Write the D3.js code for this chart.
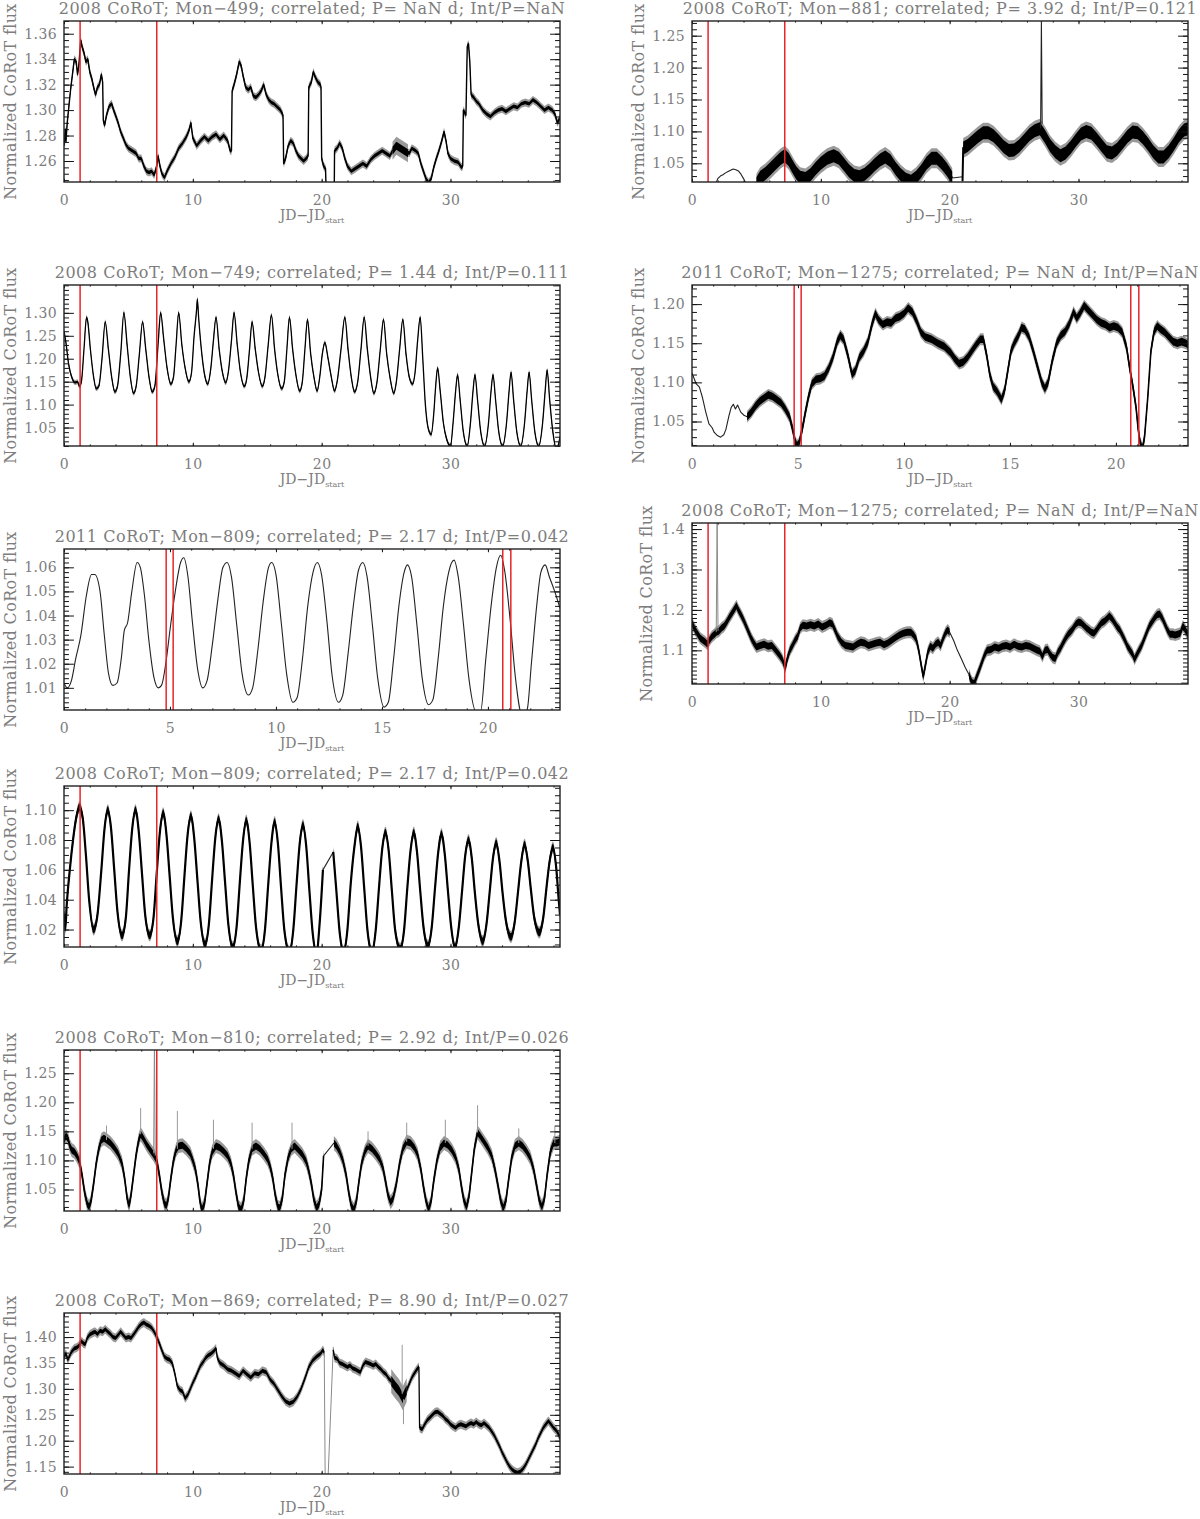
<!DOCTYPE html>
<html><head><meta charset="utf-8">
<script src="https://cdn.jsdelivr.net/npm/d3@7"></script>
<style>html,body{margin:0;padding:0;background:#fff}</style>
</head><body>
<script>
// ---------------- DATA ----------------
const titles = {
  L1:"2008 CoRoT; Mon\u2212499; correlated; P= NaN d; Int/P=NaN",
  L2:"2008 CoRoT; Mon\u2212749; correlated; P= 1.44 d; Int/P=0.111",
  L3:"2011 CoRoT; Mon\u2212809; correlated; P= 2.17 d; Int/P=0.042",
  L4:"2008 CoRoT; Mon\u2212809; correlated; P= 2.17 d; Int/P=0.042",
  L5:"2008 CoRoT; Mon\u2212810; correlated; P= 2.92 d; Int/P=0.026",
  L6:"2008 CoRoT; Mon\u2212869; correlated; P= 8.90 d; Int/P=0.027",
  R1:"2008 CoRoT; Mon\u2212881; correlated; P= 3.92 d; Int/P=0.121",
  R2:"2011 CoRoT; Mon\u22121275; correlated; P= NaN d; Int/P=NaN",
  R3:"2008 CoRoT; Mon\u22121275; correlated; P= NaN d; Int/P=NaN"
};
const yLabel = "Normalized CoRoT flux";
const xTicks2008 = [0,10,20,30];
const xTicks2011 = [0,5,10,15,20];
const xDomain2008 = [0,38.5];
const xDomain2011 = [0,23.4];
const redLines2008 = [1.25,7.2];
const redLines2011 = [4.82,5.15,20.7,21.08];

const yDom = {L1:[1.2435,1.370],R1:[1.0207,1.273],L2:[1.0098,1.3607],R2:[1.0187,1.2244],
  L3:[1.0008,1.0676],R3:[1.0167,1.415],L4:[1.0083,1.1162],L5:[1.013,1.290],L6:[1.1358,1.4464]};
const yTicks = {L1:[1.26,1.28,1.30,1.32,1.34,1.36],R1:[1.05,1.10,1.15,1.20,1.25],
  L2:[1.05,1.10,1.15,1.20,1.25,1.30],R2:[1.05,1.10,1.15,1.20],L3:[1.01,1.02,1.03,1.04,1.05,1.06],
  R3:[1.1,1.2,1.3,1.4],L4:[1.02,1.04,1.06,1.08,1.10],L5:[1.05,1.10,1.15,1.20,1.25],
  L6:[1.15,1.20,1.25,1.30,1.35,1.40]};
const yMinorStep = {L1:0.005,R1:0.01,L2:0.01,R2:0.01,L3:0.002,R3:0.01,L4:0.005,L5:0.01,L6:0.01};
const yDecimals = {L1:2,R1:2,L2:2,R2:2,L3:2,R3:1,L4:2,L5:2,L6:2};

// Mon-499 (2008)
const m499 = [[0.0,1.272],[0.1,1.285],[0.15,1.275],[0.25,1.29],[0.5,1.315],[0.8,1.34],[0.95,1.338],[1.05,1.328],[1.15,1.335],[1.3,1.355],[1.4,1.35],[1.55,1.345],[1.7,1.338],[1.85,1.34],[2.0,1.33],[2.15,1.325],[2.3,1.318],[2.45,1.312],[2.6,1.318],[2.75,1.32],[2.9,1.328],[3.0,1.322],[3.05,1.292],[3.15,1.288],[3.3,1.296],[3.5,1.303],[3.7,1.305],[3.85,1.300],[4.0,1.296],[4.2,1.290],[4.4,1.283],[4.6,1.278],[4.8,1.273],[5.0,1.270],[5.3,1.268],[5.6,1.266],[5.8,1.262],[6.0,1.262],[6.2,1.256],[6.4,1.252],[6.6,1.251],[6.8,1.252],[7.0,1.249],[7.2,1.256],[7.3,1.264],[7.45,1.256],[7.6,1.250],[7.8,1.247],[8.0,1.252],[8.3,1.258],[8.6,1.263],[8.9,1.270],[9.2,1.274],[9.5,1.279],[9.7,1.284],[9.85,1.290],[10.0,1.278],[10.3,1.272],[10.6,1.276],[10.9,1.279],[11.2,1.276],[11.5,1.279],[11.8,1.281],[12.1,1.277],[12.4,1.280],[12.7,1.276],[12.9,1.268],[13.0,1.268],[13.05,1.315],[13.2,1.320],[13.4,1.328],[13.6,1.338],[13.75,1.335],[13.9,1.327],[14.1,1.318],[14.3,1.316],[14.5,1.318],[14.7,1.311],[14.9,1.310],[15.1,1.312],[15.3,1.315],[15.5,1.320],[15.7,1.312],[15.9,1.308],[16.1,1.306],[16.3,1.305],[16.6,1.302],[16.8,1.300],[17.0,1.296],[17.05,1.258],[17.2,1.262],[17.4,1.272],[17.6,1.276],[17.8,1.274],[18.0,1.268],[18.2,1.264],[18.4,1.262],[18.6,1.260],[18.8,1.262],[18.95,1.264],[19.0,1.318],[19.2,1.322],[19.35,1.330],[19.5,1.326],[19.7,1.322],[19.9,1.320],[19.95,1.318],[20.0,1.262],[20.15,1.256],[20.3,1.254],[20.45,1.20],[20.95,1.20],[21.0,1.268],[21.2,1.270],[21.4,1.274],[21.6,1.270],[21.8,1.262],[22.0,1.256],[22.3,1.252],[22.6,1.254],[22.9,1.256],[23.2,1.258],[23.5,1.256],[23.8,1.261],[24.1,1.264],[24.4,1.266],[24.7,1.268],[25.0,1.266],[25.3,1.264],[25.6,1.270],[25.9,1.272],[26.2,1.270],[26.5,1.268],[26.8,1.266],[27.0,1.270],[27.3,1.268],[27.5,1.266],[27.7,1.258],[27.9,1.252],[28.1,1.246],[28.3,1.243],[28.5,1.246],[28.7,1.255],[28.9,1.262],[29.1,1.268],[29.3,1.275],[29.5,1.283],[29.65,1.276],[29.8,1.266],[30.0,1.262],[30.3,1.260],[30.6,1.259],[30.85,1.255],[30.95,1.256],[31.0,1.300],[31.1,1.298],[31.2,1.296],[31.3,1.350],[31.4,1.352],[31.5,1.338],[31.6,1.312],[31.8,1.310],[32.0,1.307],[32.2,1.305],[32.5,1.300],[32.8,1.297],[33.1,1.295],[33.4,1.298],[33.7,1.300],[34.0,1.301],[34.3,1.299],[34.6,1.301],[34.9,1.303],[35.2,1.302],[35.5,1.305],[35.8,1.306],[36.1,1.305],[36.4,1.308],[36.7,1.306],[37.0,1.303],[37.3,1.300],[37.6,1.302],[37.9,1.300],[38.1,1.297],[38.3,1.290],[38.5,1.294]];
const m499_noisy = [[25.5,1.268],[25.8,1.272],[26.1,1.270],[26.4,1.268],[26.7,1.266]];

// Mon-881 (2008)
const m881_a = [[0.0,1.022],[0.12,1.020]];
const m881_b = [[1.85,1.018],[2.0,1.026],[2.2,1.030],[2.4,1.032],[2.6,1.035],[2.8,1.037],[3.0,1.039],[3.2,1.041],[3.4,1.040],[3.6,1.038],[3.8,1.033],[4.0,1.026],[4.2,1.018]];
const m881_c = [[5.0,1.018],[5.3,1.028],[5.7,1.034],[6.1,1.042],[6.5,1.050],[6.9,1.058],[7.2,1.062],[7.5,1.056],[7.8,1.045],[8.1,1.035],[8.4,1.028],[8.8,1.026],[9.2,1.032],[9.6,1.042],[10.0,1.050],[10.5,1.058],[11.0,1.062],[11.4,1.058],[11.8,1.048],[12.2,1.038],[12.6,1.031],[13.0,1.029],[13.4,1.033],[13.8,1.040],[14.2,1.048],[14.6,1.055],[15.0,1.060],[15.4,1.054],[15.8,1.042],[16.2,1.032],[16.6,1.025],[17.0,1.022],[17.4,1.028],[17.8,1.038],[18.2,1.050],[18.6,1.058],[19.0,1.058],[19.4,1.050],[19.8,1.040],[20.2,1.027]];
const m881_d = [[20.2,1.027],[21.0,1.029]];
const m881_e = [[21.0,1.022],[21.05,1.074],[21.4,1.078],[21.8,1.085],[22.2,1.092],[22.6,1.098],[23.0,1.098],[23.4,1.093],[23.8,1.085],[24.2,1.076],[24.6,1.070],[25.0,1.071],[25.4,1.077],[25.8,1.086],[26.2,1.095],[26.6,1.101],[27.0,1.104],[27.4,1.092],[27.8,1.078],[28.2,1.068],[28.6,1.062],[29.0,1.066],[29.4,1.075],[29.8,1.086],[30.2,1.096],[30.6,1.100],[31.0,1.097],[31.4,1.088],[31.8,1.078],[32.2,1.068],[32.6,1.066],[33.0,1.072],[33.4,1.082],[33.8,1.092],[34.2,1.099],[34.6,1.098],[35.0,1.090],[35.4,1.080],[35.8,1.068],[36.2,1.060],[36.6,1.060],[37.0,1.068],[37.4,1.080],[37.8,1.093],[38.2,1.102],[38.5,1.104]];
const m881_spike = [[27.06,1.105],[27.12,1.273],[27.18,1.112]];

// Mon-749 (2008)
const m749 = [[0.0,1.26],[0.15,1.235],[0.35,1.19],[0.6,1.16],[0.85,1.148],[1.05,1.15],[1.2,1.14],[1.35,1.15],[1.55,1.22],[1.75,1.29],[1.85,1.28],[2.05,1.22],[2.3,1.16],[2.5,1.135],[2.7,1.14],[2.95,1.2],[3.2,1.28],[3.45,1.22],[3.7,1.16],[3.95,1.128],[4.15,1.14],[4.4,1.21],[4.65,1.30],[4.9,1.23],[5.15,1.16],[5.4,1.125],[5.6,1.14],[5.85,1.21],[6.1,1.28],[6.35,1.22],[6.6,1.16],[6.85,1.128],[7.05,1.14],[7.3,1.23],[7.5,1.30],[7.75,1.24],[8.0,1.18],[8.3,1.145],[8.5,1.16],[8.7,1.23],[8.9,1.30],[9.15,1.23],[9.4,1.18],[9.7,1.15],[9.9,1.17],[10.1,1.25],[10.3,1.31],[10.35,1.33],[10.45,1.29],[10.7,1.21],[10.95,1.16],[11.15,1.145],[11.4,1.18],[11.6,1.24],[11.8,1.29],[12.05,1.22],[12.3,1.17],[12.55,1.148],[12.75,1.17],[13.0,1.24],[13.2,1.30],[13.45,1.23],[13.7,1.17],[14.0,1.14],[14.2,1.16],[14.4,1.22],[14.6,1.28],[14.85,1.22],[15.1,1.17],[15.4,1.14],[15.6,1.16],[15.85,1.23],[16.1,1.295],[16.35,1.22],[16.6,1.165],[16.9,1.135],[17.1,1.15],[17.3,1.22],[17.5,1.29],[17.75,1.22],[18.0,1.165],[18.3,1.13],[18.5,1.15],[18.7,1.22],[18.9,1.285],[19.15,1.21],[19.4,1.16],[19.65,1.13],[19.85,1.16],[20.05,1.21],[20.25,1.235],[20.5,1.2],[20.75,1.16],[21.0,1.13],[21.2,1.15],[21.5,1.22],[21.8,1.29],[22.05,1.22],[22.3,1.16],[22.55,1.128],[22.8,1.15],[23.05,1.22],[23.3,1.29],[23.55,1.22],[23.8,1.16],[24.05,1.125],[24.3,1.15],[24.55,1.22],[24.8,1.285],[25.05,1.21],[25.3,1.16],[25.6,1.125],[25.8,1.15],[26.05,1.22],[26.3,1.285],[26.55,1.21],[26.8,1.16],[27.05,1.145],[27.25,1.17],[27.45,1.24],[27.65,1.29],[27.85,1.2],[28.05,1.1],[28.3,1.045],[28.5,1.035],[28.7,1.08],[28.85,1.14],[29.0,1.18],[29.2,1.13],[29.45,1.06],[29.7,1.025],[30.0,1.01],[30.2,1.06],[30.4,1.13],[30.55,1.165],[30.75,1.11],[31.0,1.04],[31.3,1.01],[31.55,1.06],[31.75,1.13],[31.9,1.165],[32.1,1.11],[32.35,1.04],[32.65,1.01],[32.95,1.06],[33.15,1.13],[33.3,1.165],[33.5,1.11],[33.75,1.04],[34.05,1.01],[34.35,1.06],[34.55,1.13],[34.7,1.17],[34.9,1.11],[35.15,1.04],[35.45,1.01],[35.75,1.06],[35.95,1.13],[36.1,1.17],[36.3,1.11],[36.55,1.04],[36.85,1.01],[37.15,1.06],[37.35,1.13],[37.5,1.175],[37.7,1.11],[37.95,1.04],[38.2,1.005],[38.35,1.01],[38.5,1.03]];

// Mon-1275 (2011)
const m1275b_thin = [[0.0,1.112],[0.1,1.105],[0.2,1.098],[0.35,1.094],[0.5,1.080],[0.65,1.062],[0.8,1.047],[0.95,1.042],[1.05,1.036],[1.2,1.032],[1.35,1.030],[1.5,1.033],[1.6,1.040],[1.75,1.058],[1.85,1.068],[1.95,1.072],[2.05,1.066],[2.15,1.071],[2.3,1.062],[2.45,1.058],[2.6,1.056]];
const m1275b = [[2.6,1.056],[2.8,1.062],[3.0,1.070],[3.2,1.076],[3.4,1.080],[3.6,1.084],[3.8,1.082],[4.0,1.078],[4.2,1.074],[4.4,1.066],[4.6,1.056],[4.75,1.040],[4.85,1.026],[4.95,1.019],[5.05,1.022],[5.2,1.040],[5.35,1.062],[5.5,1.082],[5.65,1.098],[5.85,1.104],[6.05,1.105],[6.25,1.108],[6.45,1.118],[6.65,1.132],[6.85,1.152],[7.0,1.160],[7.15,1.155],[7.35,1.135],[7.55,1.110],[7.7,1.115],[7.9,1.132],[8.1,1.140],[8.3,1.152],[8.5,1.175],[8.65,1.188],[8.8,1.180],[9.0,1.174],[9.2,1.177],[9.4,1.176],[9.6,1.182],[9.8,1.184],[10.0,1.188],[10.2,1.195],[10.4,1.190],[10.6,1.178],[10.8,1.164],[11.0,1.158],[11.3,1.155],[11.6,1.150],[11.9,1.146],[12.2,1.138],[12.4,1.130],[12.6,1.124],[12.8,1.126],[13.0,1.132],[13.2,1.140],[13.4,1.148],[13.6,1.155],[13.75,1.155],[13.9,1.135],[14.05,1.110],[14.2,1.095],[14.4,1.088],[14.6,1.078],[14.75,1.090],[14.9,1.115],[15.05,1.140],[15.2,1.150],[15.4,1.160],[15.55,1.170],[15.7,1.168],[15.9,1.158],[16.1,1.140],[16.3,1.120],[16.5,1.100],[16.65,1.092],[16.8,1.100],[17.0,1.128],[17.2,1.150],[17.4,1.160],[17.6,1.165],[17.8,1.175],[18.0,1.190],[18.15,1.182],[18.3,1.188],[18.5,1.198],[18.7,1.192],[18.9,1.186],[19.1,1.180],[19.3,1.176],[19.5,1.174],[19.7,1.170],[19.9,1.172],[20.1,1.170],[20.3,1.164],[20.5,1.145],[20.65,1.118],[20.8,1.095],[20.95,1.068],[21.05,1.040],[21.15,1.022],[21.25,1.015],[21.35,1.030],[21.5,1.080],[21.65,1.140],[21.8,1.165],[21.95,1.172],[22.1,1.168],[22.3,1.164],[22.5,1.158],[22.7,1.152],[22.9,1.150],[23.1,1.152],[23.3,1.150],[23.4,1.148]];

// Mon-809 (2011)
const m809b = [[0.0,1.012],[0.15,1.010],[0.35,1.013],[0.55,1.022],[0.8,1.032],[1.05,1.048],[1.3,1.057],[1.45,1.057],[1.7,1.050],[1.9,1.032],[2.1,1.016],[2.3,1.011],[2.5,1.012],[2.7,1.022],[2.85,1.034],[3.0,1.037],[3.2,1.050],[3.45,1.062],[3.6,1.060],[3.8,1.048],[4.0,1.030],[4.25,1.014],[4.45,1.010],[4.6,1.011],[4.8,1.020],[5.0,1.034],[5.25,1.050],[5.5,1.062],[5.65,1.064],[5.85,1.056],[6.05,1.038],[6.3,1.018],[6.55,1.010],[6.75,1.013],[7.0,1.028],[7.25,1.046],[7.5,1.060],[7.7,1.062],[7.9,1.056],[8.15,1.036],[8.4,1.016],[8.7,1.007],[8.9,1.010],[9.15,1.026],[9.4,1.046],[9.65,1.060],[9.8,1.062],[10.0,1.057],[10.25,1.037],[10.5,1.016],[10.8,1.004],[11.0,1.006],[11.25,1.022],[11.5,1.044],[11.75,1.058],[11.95,1.062],[12.15,1.057],[12.4,1.038],[12.65,1.015],[12.95,1.004],[13.15,1.007],[13.4,1.024],[13.65,1.044],[13.9,1.059],[14.1,1.062],[14.3,1.056],[14.55,1.036],[14.8,1.014],[15.1,1.002],[15.3,1.004],[15.55,1.022],[15.8,1.044],[16.05,1.058],[16.2,1.061],[16.4,1.056],[16.65,1.036],[16.9,1.014],[17.2,1.003],[17.4,1.005],[17.65,1.022],[17.9,1.044],[18.15,1.058],[18.4,1.063],[18.6,1.056],[18.85,1.036],[19.1,1.014],[19.45,1.000],[19.65,1.000],[19.9,1.022],[20.15,1.044],[20.4,1.060],[20.6,1.065],[20.8,1.058],[21.05,1.038],[21.3,1.014],[21.6,0.999],[21.85,1.001],[22.05,1.020],[22.3,1.044],[22.5,1.058],[22.7,1.061],[22.9,1.056],[23.15,1.050],[23.4,1.043]];

// Mon-1275 (2008)
const m1275a_1 = [[0.0,1.168],[0.1,1.160],[0.25,1.150],[0.45,1.140],[0.65,1.130],[0.85,1.125],[1.05,1.120],[1.2,1.115],[1.35,1.125],[1.55,1.134],[1.75,1.140],[1.9,1.145],[2.1,1.148],[2.3,1.155],[2.5,1.160],[2.7,1.170],[2.9,1.182],[3.1,1.192],[3.3,1.202],[3.45,1.210],[3.6,1.200],[3.8,1.188],[4.0,1.175],[4.2,1.160],[4.4,1.145],[4.6,1.130],[4.8,1.118],[5.0,1.108],[5.3,1.112],[5.6,1.115],[5.9,1.110],[6.2,1.112],[6.5,1.100],[6.8,1.088],[7.0,1.078],[7.15,1.065],[7.25,1.058],[7.4,1.080],[7.6,1.100],[7.8,1.112],[8.0,1.125],[8.2,1.135],[8.4,1.155],[8.6,1.162],[8.9,1.160],[9.2,1.163],[9.5,1.160],[9.8,1.165],[10.1,1.158],[10.4,1.162],[10.7,1.168],[10.9,1.165],[11.1,1.150],[11.3,1.135],[11.6,1.120],[11.9,1.112],[12.2,1.110],[12.5,1.108],[12.8,1.115],[13.1,1.120],[13.4,1.118],[13.7,1.112],[14.0,1.115],[14.3,1.118],[14.6,1.120],[14.9,1.114],[15.2,1.118],[15.5,1.125],[15.8,1.132],[16.1,1.138],[16.4,1.142],[16.7,1.145],[17.0,1.145],[17.2,1.138],[17.4,1.128],[17.6,1.100],[17.8,1.062],[17.95,1.035],[18.1,1.060],[18.3,1.095],[18.5,1.110],[18.7,1.105],[18.9,1.115],[19.1,1.120],[19.3,1.112],[19.5,1.130],[19.7,1.145],[19.85,1.150],[20.0,1.145]];
const m1275a_thin = [[20.0,1.145],[20.3,1.125],[20.6,1.100],[20.9,1.080],[21.2,1.058],[21.5,1.040]];
const m1275a_2 = [[21.5,1.040],[21.6,1.030],[21.75,1.020],[21.9,1.018],[22.1,1.035],[22.3,1.052],[22.5,1.070],[22.7,1.088],[22.9,1.100],[23.2,1.102],[23.5,1.108],[23.8,1.105],[24.1,1.110],[24.4,1.112],[24.7,1.108],[25.0,1.115],[25.3,1.110],[25.6,1.108],[25.9,1.112],[26.2,1.110],[26.5,1.105],[26.8,1.100],[27.0,1.098],[27.2,1.085],[27.4,1.100],[27.6,1.102],[27.8,1.090],[28.0,1.082],[28.2,1.080],[28.4,1.095],[28.6,1.105],[28.8,1.118],[29.0,1.130],[29.2,1.140],[29.5,1.150],[29.8,1.165],[30.0,1.170],[30.2,1.168],[30.4,1.162],[30.6,1.155],[30.8,1.150],[31.0,1.145],[31.2,1.142],[31.4,1.150],[31.6,1.160],[31.8,1.168],[32.0,1.172],[32.2,1.178],[32.4,1.185],[32.6,1.178],[32.8,1.168],[33.0,1.158],[33.2,1.150],[33.4,1.138],[33.6,1.125],[33.8,1.110],[34.0,1.100],[34.2,1.090],[34.35,1.078],[34.5,1.088],[34.7,1.100],[34.9,1.112],[35.1,1.128],[35.3,1.145],[35.5,1.160],[35.7,1.170],[35.9,1.180],[36.1,1.188],[36.3,1.190],[36.5,1.180],[36.7,1.165],[36.9,1.150],[37.1,1.140],[37.3,1.140],[37.5,1.138],[37.7,1.140],[37.9,1.142],[38.1,1.160],[38.3,1.150],[38.5,1.138]];
const m1275a_spike = [[1.88,1.145],[1.95,1.42],[2.02,1.148]];

// Mon-809 (2008)
const m809a_1 = [[0.0,1.022],[0.05,1.030],[0.1,1.020],[0.2,1.035],[0.45,1.060],[0.7,1.080],[0.95,1.095],[1.2,1.102],[1.45,1.095],[1.7,1.070],[1.95,1.040],[2.3,1.020],[2.6,1.030],[2.9,1.060],[3.15,1.088],[3.4,1.100],[3.65,1.088],[3.9,1.060],[4.15,1.032],[4.5,1.016],[4.8,1.028],[5.05,1.060],[5.3,1.088],[5.55,1.100],[5.8,1.086],[6.05,1.058],[6.3,1.030],[6.65,1.016],[6.95,1.028],[7.2,1.058],[7.45,1.086],[7.7,1.098],[7.95,1.084],[8.2,1.056],[8.45,1.028],[8.8,1.012],[9.1,1.026],[9.35,1.056],[9.6,1.084],[9.85,1.096],[10.1,1.082],[10.35,1.054],[10.6,1.026],[10.95,1.010],[11.25,1.024],[11.5,1.054],[11.75,1.082],[12.0,1.094],[12.25,1.080],[12.5,1.052],[12.75,1.024],[13.1,1.008],[13.4,1.022],[13.65,1.052],[13.9,1.080],[14.15,1.093],[14.4,1.079],[14.65,1.050],[14.9,1.022],[15.3,1.006],[15.6,1.020],[15.85,1.050],[16.1,1.078],[16.35,1.092],[16.6,1.078],[16.85,1.048],[17.1,1.020],[17.5,1.005],[17.8,1.020],[18.05,1.050],[18.3,1.078],[18.55,1.090],[18.8,1.076],[19.05,1.046],[19.3,1.018],[19.6,1.004],[19.85,1.025],[20.1,1.060]];
const m809a_thin = [[20.1,1.060],[20.9,1.072]];
const m809a_2 = [[20.9,1.072],[21.15,1.045],[21.4,1.018],[21.7,1.005],[22.0,1.020],[22.25,1.050],[22.55,1.076],[22.8,1.089],[23.05,1.076],[23.3,1.048],[23.55,1.020],[23.9,1.005],[24.2,1.020],[24.45,1.048],[24.7,1.074],[24.95,1.085],[25.2,1.073],[25.45,1.046],[25.7,1.020],[26.1,1.007],[26.4,1.020],[26.65,1.048],[26.9,1.073],[27.15,1.085],[27.4,1.072],[27.65,1.046],[27.9,1.022],[28.25,1.009],[28.55,1.022],[28.8,1.048],[29.05,1.072],[29.3,1.084],[29.55,1.071],[29.8,1.046],[30.05,1.022],[30.35,1.008],[30.65,1.022],[30.9,1.046],[31.15,1.070],[31.4,1.080],[31.65,1.068],[31.9,1.044],[32.15,1.024],[32.5,1.012],[32.8,1.024],[33.05,1.046],[33.3,1.068],[33.55,1.078],[33.8,1.066],[34.05,1.044],[34.3,1.026],[34.7,1.015],[35.0,1.026],[35.25,1.046],[35.5,1.066],[35.75,1.077],[36.0,1.066],[36.25,1.046],[36.5,1.028],[36.9,1.018],[37.2,1.028],[37.45,1.048],[37.7,1.066],[37.95,1.075],[38.2,1.062],[38.4,1.040],[38.5,1.030]];

// Mon-810 (2008)
const m810_1 = [[0.0,1.135],[0.15,1.142],[0.3,1.138],[0.45,1.125],[0.6,1.118],[0.8,1.115],[1.0,1.108],[1.2,1.098],[1.4,1.075],[1.6,1.045],[1.8,1.025],[1.95,1.020],[2.1,1.030],[2.3,1.060],[2.5,1.095],[2.7,1.120],[2.9,1.135],[3.1,1.138],[3.3,1.135],[3.6,1.130],[3.9,1.122],[4.2,1.112],[4.5,1.095],[4.7,1.070],[4.9,1.035],[5.05,1.022],[5.2,1.040],[5.4,1.075],[5.6,1.110],[5.8,1.135],[5.95,1.145],[6.15,1.138],[6.4,1.128],[6.7,1.118],[6.95,1.110],[7.2,1.100],[7.4,1.075],[7.6,1.045],[7.8,1.025],[7.95,1.022],[8.1,1.035],[8.3,1.070],[8.5,1.100],[8.7,1.118],[8.9,1.125],[9.2,1.126],[9.5,1.120],[9.8,1.112],[10.0,1.100],[10.2,1.085],[10.4,1.058],[10.55,1.030],[10.7,1.015],[10.9,1.025],[11.1,1.060],[11.3,1.095],[11.5,1.115],[11.8,1.125],[12.1,1.122],[12.4,1.116],[12.7,1.108],[12.95,1.095],[13.15,1.075],[13.35,1.045],[13.55,1.020],[13.75,1.015],[13.95,1.030],[14.15,1.070],[14.35,1.100],[14.6,1.120],[14.9,1.125],[15.2,1.120],[15.5,1.112],[15.8,1.102],[16.0,1.090],[16.2,1.070],[16.4,1.040],[16.6,1.020],[16.75,1.018],[16.95,1.035],[17.15,1.075],[17.4,1.105],[17.65,1.120],[17.9,1.125],[18.2,1.118],[18.5,1.110],[18.8,1.098],[19.0,1.082],[19.2,1.060],[19.4,1.032],[19.6,1.018],[19.8,1.025],[20.0,1.050],[20.15,1.108]];
const m810_thin = [[20.15,1.108],[20.95,1.130]];
const m810_2 = [[20.95,1.130],[21.15,1.125],[21.4,1.115],[21.65,1.100],[21.9,1.075],[22.1,1.045],[22.3,1.022],[22.5,1.015],[22.7,1.030],[22.9,1.065],[23.1,1.095],[23.35,1.115],[23.6,1.125],[23.9,1.120],[24.2,1.112],[24.5,1.102],[24.75,1.088],[24.95,1.065],[25.15,1.040],[25.35,1.028],[25.55,1.035],[25.8,1.060],[26.05,1.095],[26.3,1.120],[26.6,1.132],[26.9,1.130],[27.2,1.122],[27.45,1.110],[27.7,1.085],[27.9,1.055],[28.1,1.030],[28.3,1.016],[28.5,1.030],[28.7,1.065],[28.95,1.100],[29.2,1.122],[29.5,1.130],[29.8,1.126],[30.1,1.118],[30.4,1.105],[30.65,1.085],[30.85,1.055],[31.05,1.030],[31.25,1.020],[31.45,1.040],[31.65,1.080],[31.85,1.120],[32.1,1.148],[32.3,1.142],[32.6,1.132],[32.9,1.122],[33.2,1.108],[33.45,1.085],[33.7,1.055],[33.9,1.030],[34.1,1.018],[34.3,1.030],[34.5,1.065],[34.75,1.105],[35.0,1.125],[35.3,1.130],[35.6,1.125],[35.9,1.116],[36.2,1.104],[36.45,1.085],[36.7,1.055],[36.9,1.030],[37.1,1.020],[37.3,1.035],[37.5,1.075],[37.75,1.115],[38.0,1.130],[38.25,1.130],[38.5,1.132]];
const m810_spike = [[6.96,1.112],[7.02,1.30],[7.08,1.108]];
const m810_flares = [[5.95,1.145,1.19],[8.8,1.12,1.185],[11.6,1.12,1.17],[14.6,1.12,1.165],[17.7,1.12,1.165],[29.6,1.13,1.17],[32.1,1.148,1.195],[3.3,1.135,1.16],[26.6,1.132,1.165],[23.6,1.125,1.15],[35.3,1.13,1.155],[38.1,1.13,1.16]];

// Mon-869 (2008)
const m869_1 = [[0.0,1.362],[0.15,1.368],[0.3,1.356],[0.45,1.365],[0.6,1.372],[0.8,1.378],[1.0,1.380],[1.2,1.384],[1.35,1.392],[1.5,1.388],[1.65,1.386],[1.8,1.398],[2.0,1.405],[2.2,1.408],[2.4,1.410],[2.6,1.406],[2.8,1.412],[3.0,1.410],[3.2,1.415],[3.4,1.410],[3.6,1.406],[3.8,1.400],[4.0,1.398],[4.2,1.404],[4.4,1.410],[4.6,1.404],[4.8,1.398],[5.0,1.400],[5.2,1.398],[5.4,1.405],[5.6,1.412],[5.8,1.420],[6.0,1.425],[6.2,1.428],[6.4,1.424],[6.6,1.422],[6.8,1.418],[7.0,1.410],[7.2,1.400],[7.4,1.388],[7.6,1.374],[7.8,1.362],[8.0,1.358],[8.2,1.356],[8.4,1.350],[8.6,1.330],[8.8,1.305],[9.0,1.298],[9.2,1.295],[9.4,1.282],[9.6,1.288],[9.8,1.300],[10.0,1.312],[10.2,1.322],[10.4,1.334],[10.6,1.345],[10.8,1.352],[11.0,1.360],[11.2,1.365],[11.4,1.368],[11.6,1.372],[11.8,1.378],[11.9,1.360],[12.1,1.350],[12.4,1.345],[12.7,1.338],[13.0,1.335],[13.3,1.330],[13.6,1.325],[13.9,1.335],[14.2,1.328],[14.5,1.322],[14.8,1.330],[15.1,1.328],[15.4,1.335],[15.7,1.332],[16.0,1.318],[16.3,1.310],[16.6,1.298],[16.9,1.286],[17.2,1.276],[17.5,1.272],[17.8,1.275],[18.1,1.285],[18.4,1.300],[18.7,1.320],[19.0,1.342],[19.3,1.355],[19.6,1.362],[19.9,1.368],[20.1,1.375],[20.2,1.370]];
const m869_drop = [[20.2,1.370],[20.28,1.10],[20.45,1.10],[20.9,1.38]];
const m869_2 = [[20.9,1.375],[21.0,1.360],[21.2,1.358],[21.4,1.350],[21.6,1.348],[21.8,1.345],[22.0,1.342],[22.2,1.345],[22.4,1.340],[22.6,1.338],[22.8,1.335],[23.0,1.332],[23.2,1.345],[23.4,1.352],[23.6,1.350],[23.8,1.348],[24.0,1.345],[24.2,1.348],[24.4,1.342],[24.6,1.338],[24.8,1.332],[25.0,1.328],[25.2,1.320],[25.4,1.315],[25.6,1.308],[25.8,1.300],[26.0,1.296],[26.2,1.285],[26.4,1.280],[26.6,1.298],[26.8,1.310],[27.0,1.322],[27.2,1.330],[27.4,1.338],[27.55,1.342],[27.6,1.225],[27.8,1.222],[28.0,1.232],[28.2,1.240],[28.4,1.245],[28.6,1.250],[28.8,1.255],[29.0,1.256],[29.2,1.252],[29.4,1.248],[29.6,1.242],[29.8,1.238],[30.0,1.232],[30.2,1.228],[30.4,1.225],[30.6,1.230],[30.8,1.232],[31.0,1.230],[31.2,1.228],[31.4,1.232],[31.6,1.234],[31.8,1.232],[32.0,1.236],[32.2,1.232],[32.4,1.230],[32.6,1.234],[32.8,1.230],[33.0,1.225],[33.2,1.218],[33.4,1.210],[33.6,1.200],[33.8,1.190],[34.0,1.178],[34.2,1.168],[34.4,1.158],[34.6,1.150],[34.8,1.144],[35.0,1.140],[35.2,1.138],[35.4,1.140],[35.6,1.145],[35.8,1.152],[36.0,1.162],[36.2,1.172],[36.4,1.182],[36.6,1.192],[36.8,1.205],[37.0,1.215],[37.2,1.225],[37.4,1.232],[37.6,1.238],[37.8,1.232],[38.0,1.225],[38.2,1.220],[38.4,1.212],[38.5,1.205]];
const m869_noisy = [[25.4,1.315],[25.7,1.305],[26.0,1.296],[26.3,1.282],[26.6,1.298]];
const m869_spikes = [[26.25,1.29,1.385],[26.35,1.28,1.232]];

// ---------------- LAYOUT / STYLE ----------------
const W = 1200, H = 1519;
const TXT = "#7d7d7d";
const FONT = "'DejaVu Serif', 'Liberation Serif', serif";
const frames = {
  L1:[64,560,21,182], L2:[64,560,285,446], L3:[64,560,549,710], L4:[64,560,786,947],
  L5:[64,560,1050,1211], L6:[64,560,1313,1474],
  R1:[692,1188,21,182], R2:[692,1188,285,446], R3:[692,1188,523,684]
};
// segment styles: band = [grey half px, black half px, line width]
const panels = [
  {id:"L1", yr:2008, segs:[{d:m499,t:"band",b:[4,1.8,1.4]},{d:m499_noisy,t:"band",b:[9,4,1]}]},
  {id:"R1", yr:2008, segs:[{d:m881_a,t:"thin"},{d:m881_b,t:"thin"},{d:m881_c,t:"band",b:[10,6.5,2]},{d:m881_d,t:"thin"},{d:m881_e,t:"band",b:[10,6.5,2]},{d:m881_spike,t:"thin"}]},
  {id:"L2", yr:2008, curve:true, segs:[{d:m749,t:"band",b:[2.5,1,1.3]}]},
  {id:"R2", yr:2011, segs:[{d:m1275b_thin,t:"thin"},{d:m1275b,t:"band",b:[6,3.8,1.6]}]},
  {id:"L3", yr:2011, curve:true, segs:[{d:m809b,t:"thin"}]},
  {id:"R3", yr:2008, segs:[{d:m1275a_1,t:"band",b:[6,3.5,1.5]},{d:m1275a_thin,t:"thin"},{d:m1275a_2,t:"band",b:[6,3.5,1.5]},{d:m1275a_spike,t:"spike"}]},
  {id:"L4", yr:2008, curve:true, segs:[{d:m809a_1,t:"band",b:[6,3.8,2.2]},{d:m809a_thin,t:"thin"},{d:m809a_2,t:"band",b:[6,3.8,2.2]}]},
  {id:"L5", yr:2008, segs:[{d:m810_1,t:"band",b:[7,3.5,1.6]},{d:m810_thin,t:"thin"},{d:m810_2,t:"band",b:[7,3.5,1.6]},{d:m810_spike,t:"spike"}], flares:m810_flares},
  {id:"L6", yr:2008, segs:[{d:m869_1,t:"band",b:[4.5,2,1.3]},{d:m869_drop,t:"spike"},{d:m869_2,t:"band",b:[4.5,2,1.3]},{d:m869_noisy,t:"band",b:[12,5,1]}], flares:m869_spikes}
];

const svg = d3.select("body").append("svg").attr("width",W).attr("height",H)
  .style("font-family",FONT);
svg.append("rect").attr("width",W).attr("height",H).attr("fill","#fff");
const defs = svg.append("defs");

panels.forEach(p=>{
  const [fx0,fx1,fy0,fy1] = frames[p.id];
  const xd = p.yr===2008 ? xDomain2008 : xDomain2011;
  const xt = p.yr===2008 ? xTicks2008 : xTicks2011;
  const xMinor = p.yr===2008 ? 2 : 1;
  const reds = p.yr===2008 ? redLines2008 : redLines2011;
  const x = d3.scaleLinear().domain(xd).range([fx0,fx1]);
  const y = d3.scaleLinear().domain(yDom[p.id]).range([fy1,fy0]);
  const g = svg.append("g");
  const cid = "clip"+p.id;
  defs.append("clipPath").attr("id",cid).append("rect")
    .attr("x",fx0).attr("y",fy0).attr("width",fx1-fx0).attr("height",fy1-fy0);
  const plot = g.append("g").attr("clip-path",`url(#${cid})`);
  const curve = p.curve ? d3.curveMonotoneX : d3.curveLinear;

  p.segs.forEach(s=>{
    if (s.t==="band"){
      const [gh,bh,lw] = s.b;
      plot.append("path").datum(s.d).attr("fill","#9a9a9a")
        .attr("d",d3.area().curve(curve).x(d=>x(d[0])).y0(d=>y(d[1])+gh).y1(d=>y(d[1])-gh));
      plot.append("path").datum(s.d).attr("fill","#000")
        .attr("d",d3.area().curve(curve).x(d=>x(d[0])).y0(d=>y(d[1])+bh).y1(d=>y(d[1])-bh));
      plot.append("path").datum(s.d).attr("fill","none").attr("stroke","#000")
        .attr("stroke-width",lw).attr("stroke-linejoin","round")
        .attr("d",d3.line().curve(curve).x(d=>x(d[0])).y(d=>y(d[1])));
    } else {
      plot.append("path").datum(s.d).attr("fill","none")
        .attr("stroke", s.t==="spike" ? "#8a8a8a" : "#222")
        .attr("stroke-width", s.t==="spike" ? 1 : 1.1).attr("stroke-linejoin","round")
        .attr("d",d3.line().curve(curve).x(d=>x(d[0])).y(d=>y(d[1])));
    }
  });
  if (p.flares){
    plot.selectAll(null).data(p.flares).enter().append("line")
      .attr("x1",d=>x(d[0])).attr("x2",d=>x(d[0])).attr("y1",d=>y(d[1])).attr("y2",d=>y(d[2]))
      .attr("stroke","#999").attr("stroke-width",1);
  }
  // red lines
  g.selectAll(null).data(reds).enter().append("line")
    .attr("x1",d=>x(d)).attr("x2",d=>x(d)).attr("y1",fy0).attr("y2",fy1)
    .attr("stroke","#e8242a").attr("stroke-width",1.5);

  // axes
  const hx = (fy1-fy0)*0.02, hy = (fx1-fx0)*0.02;
  const xMinorVals = d3.range(xd[0], xd[1]+1e-9, xMinor);
  const ym = yMinorStep[p.id], yd = yDom[p.id];
  const yMinorVals = d3.range(Math.ceil(yd[0]/ym-1e-6), Math.floor(yd[1]/ym+1e-6)+1).map(k=>+(k*ym).toFixed(4));
  const fmtY = d3.format("."+yDecimals[p.id]+"f");
  const ax = (gen, tr)=> g.append("g").attr("transform",tr).call(gen).call(a=>a.select(".domain").remove());
  // minor
  ax(d3.axisBottom(x).tickValues(xMinorVals).tickSize(-hx/2).tickFormat(""), `translate(0,${fy1})`);
  ax(d3.axisTop(x).tickValues(xMinorVals).tickSize(-hx/2).tickFormat(""), `translate(0,${fy0})`);
  ax(d3.axisLeft(y).tickValues(yMinorVals).tickSize(-hy/2).tickFormat(""), `translate(${fx0},0)`);
  ax(d3.axisRight(y).tickValues(yMinorVals).tickSize(-hy/2).tickFormat(""), `translate(${fx1},0)`);
  // major
  const bx = ax(d3.axisBottom(x).tickValues(xt).tickSize(-hx).tickPadding(13).tickFormat(d3.format("d")), `translate(0,${fy1})`);
  ax(d3.axisTop(x).tickValues(xt).tickSize(-hx).tickFormat(""), `translate(0,${fy0})`);
  const ly = ax(d3.axisLeft(y).tickValues(yTicks[p.id]).tickSize(-hy).tickPadding(7).tickFormat(fmtY), `translate(${fx0},0)`);
  ax(d3.axisRight(y).tickValues(yTicks[p.id]).tickSize(-hy).tickFormat(""), `translate(${fx1},0)`);
  g.selectAll(".tick line").attr("stroke","#111").attr("stroke-width",1);
  [bx,ly].forEach(a=>a.selectAll("text").attr("fill",TXT).style("font-family",FONT)
    .style("font-size","14px").style("letter-spacing","0.4px"));

  g.append("rect").attr("x",fx0).attr("y",fy0).attr("width",fx1-fx0).attr("height",fy1-fy0)
    .attr("fill","none").attr("stroke","#222").attr("stroke-width",1.4);

  // title
  g.append("text").attr("x",(fx0+fx1)/2).attr("y",fy0-7).attr("text-anchor","middle")
    .attr("fill",TXT).style("font-size","16px").style("letter-spacing","0.55px").text(titles[p.id]);
  // x label
  const xl = g.append("text").attr("x",(fx0+fx1)/2).attr("y",fy1+38).attr("text-anchor","middle")
    .attr("fill",TXT).style("font-size","14px").text("JD\u2212JD");
  xl.append("tspan").attr("dy",2.5).style("font-size","8px").text("start");
  // y label
  const off = yDecimals[p.id]===1 ? 46 : 54;
  g.append("text").attr("transform",`translate(${fx0-off},${(fy0+fy1)/2}) rotate(-90)`)
    .attr("text-anchor","middle").attr("dominant-baseline","central")
    .attr("fill",TXT).style("font-size","16px").style("letter-spacing","0.35px").text(yLabel);
});
</script>
</body></html>
